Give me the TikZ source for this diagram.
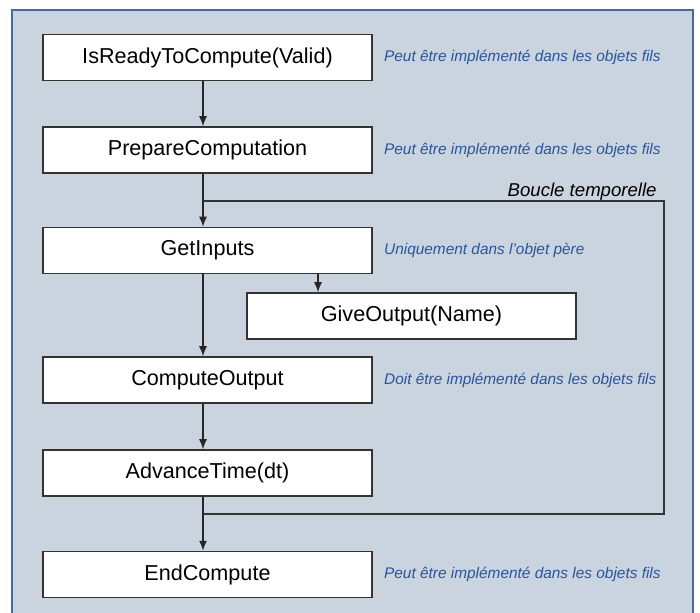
\documentclass[tikz,border=0pt]{standalone}
\usepackage{fontspec}
\setmainfont{Liberation Sans}
\usetikzlibrary{arrows.meta,positioning}
\definecolor{fond}{RGB}{201,212,222}
\definecolor{cadre}{RGB}{70,105,160}
\definecolor{bleunote}{RGB}{40,85,160}
\begin{document}
\begin{tikzpicture}[x=0.5pt,y=-0.5pt,
  etape/.style={draw=black!80,line width=0.75pt,fill=white,minimum width=164.5pt,minimum height=23pt,inner sep=0pt,font=\fontsize{10.8}{13}\selectfont},
  remarque/.style={text=bleunote,inner sep=0pt,font=\fontsize{7.7}{9}\selectfont\itshape},
  fleche/.style={-{Latex[length=5pt,width=4pt]},line width=0.7pt,black!85},
  trait/.style={line width=0.75pt,black!80}]
  \useasboundingbox (0,0) rectangle (700,613);
  \draw [cadre,fill=fond,line width=0.8pt] (12,10) rectangle (693,640);
  % les etapes
  \node[etape] (ready) at (207.5,57.5) {IsReadyToCompute(Valid)};
  \node[etape] (prep) at (207.5,150) {PrepareComputation};
  \node[etape] (getin) at (207.5,250.5) {GetInputs};
  \node[etape] (give) at (411.5,316) {GiveOutput(Name)};
  \node[etape] (compout) at (207.5,380) {ComputeOutput};
  \node[etape] (adv) at (207.5,473) {AdvanceTime(dt)};
  \node[etape] (endc) at (207.5,574.5) {EndCompute};
  % les remarques
  \node[remarque,right=5.5pt of ready] (r1) {Peut être implémenté dans les objets fils};
  \node[remarque,right=5.5pt of prep] (r2) {Peut être implémenté dans les objets fils};
  \node[remarque,right=5.5pt of getin] (r3) {Uniquement dans l'objet père};
  \node[remarque,right=5.5pt of compout] (r4) {Doit être implémenté dans les objets fils};
  \node[remarque,right=5.5pt of endc] (r5) {Peut être implémenté dans les objets fils};
  % fleches
  \coordinate (axe) at (203,0);
  \coordinate (sortie) at (318,0);
  \foreach \a/\b in {ready/prep,prep/getin,getin/compout,compout/adv,adv/endc}
    \draw [fleche] (\a.south -| axe) -- (\b.north -| axe);
  \draw [fleche] (getin.south -| sortie) -- (give.north -| sortie);
  % boucle temporelle
  \coordinate (haut) at (203,201);
  \coordinate (bas) at (203,514);
  \coordinate (coin) at (664,514);
  \draw [trait] (bas) -- (coin) |- (haut);
  \node[anchor=base east,inner sep=0pt,font=\fontsize{9.3}{11}\selectfont\itshape] (boucle) at (657,197) {Boucle temporelle};
\end{tikzpicture}
\end{document}
